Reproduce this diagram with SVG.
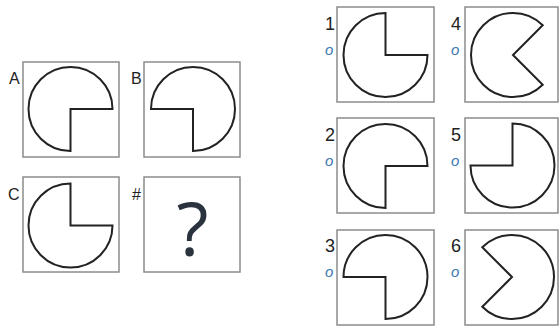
<svg xmlns="http://www.w3.org/2000/svg" width="559" height="326" viewBox="0 0 559 326">
<style>
.box{fill:#fff;stroke:#8c8c8c;stroke-width:1.5}
.shp{fill:#fff;stroke:#222;stroke-width:2;stroke-linejoin:miter}
.lbl{font-family:"Liberation Sans",Arial,sans-serif;font-size:16px;fill:#222}
.num{font-family:"Liberation Sans",Arial,sans-serif;font-size:18px;fill:#222}
.opt{font-family:"Liberation Sans",Arial,sans-serif;font-size:15px;font-style:italic;fill:#3a78b2}
.q{font-family:"Open Sans","DejaVu Sans",sans-serif;font-size:74px;fill:#2a333d}
</style>
<rect width="559" height="326" fill="#fff"/>
<g id="nodeA">
<rect class="box" x="23" y="62" width="96" height="95"/>
<path class="shp" d="M70.5,109 L70.5,151 A42,42 0 1 1 112.5,109 Z"/>
<text class="lbl" x="9" y="84">A</text>
</g>
<g id="nodeB">
<rect class="box" x="144" y="62" width="96" height="95"/>
<path class="shp" d="M193,109 L151,109 A42,42 0 1 1 193,151 Z"/>
<text class="lbl" x="131" y="84">B</text>
</g>
<g id="nodeC">
<rect class="box" x="23" y="177" width="96" height="95"/>
<path class="shp" d="M70.5,225.5 L112.5,225.5 A42,42 0 1 1 70.5,183.5 Z"/>
<text class="lbl" x="8" y="200">C</text>
</g>
<g id="nodeQ">
<rect class="box" x="144" y="177" width="96" height="95"/>
<text class="lbl" x="132" y="200">#</text>
<text class="q" x="192.5" y="256" text-anchor="middle">?</text>
</g>
<g id="opt1">
<rect class="box" x="337" y="7" width="97" height="95"/>
<path class="shp" d="M385.5,55 L427.5,55 A42,42 0 1 1 385.5,13 Z"/>
<text class="num" x="325" y="30">1</text>
<text class="opt" x="325" y="55">o</text>
</g>
<g id="opt2">
<rect class="box" x="337" y="118" width="97" height="95"/>
<path class="shp" d="M385.5,166 L385.5,208 A42,42 0 1 1 427.5,166 Z"/>
<text class="num" x="325" y="141">2</text>
<text class="opt" x="325" y="166">o</text>
</g>
<g id="opt3">
<rect class="box" x="337" y="230" width="97" height="95"/>
<path class="shp" d="M385.5,277 L343.5,277 A42,42 0 1 1 385.5,319 Z"/>
<text class="num" x="325" y="252">3</text>
<text class="opt" x="325" y="277">o</text>
</g>
<g id="opt4">
<rect class="box" x="465" y="7" width="93" height="95"/>
<path class="shp" d="M513,55 L542.7,84.7 A42,42 0 1 1 542.7,25.3 Z"/>
<text class="num" x="451" y="30">4</text>
<text class="opt" x="451" y="55">o</text>
</g>
<g id="opt5">
<rect class="box" x="465" y="118" width="93" height="95"/>
<path class="shp" d="M512.5,165.5 L512.5,123.5 A42,42 0 1 1 470.5,165.5 Z"/>
<text class="num" x="451" y="141">5</text>
<text class="opt" x="451" y="166">o</text>
</g>
<g id="opt6">
<rect class="box" x="465" y="230" width="93" height="95"/>
<path class="shp" d="M512,277 L482.3,247.3 A42,42 0 1 1 482.3,306.7 Z"/>
<text class="num" x="451" y="252">6</text>
<text class="opt" x="451" y="277">o</text>
</g>
<g id="connectors"/>
</svg>
